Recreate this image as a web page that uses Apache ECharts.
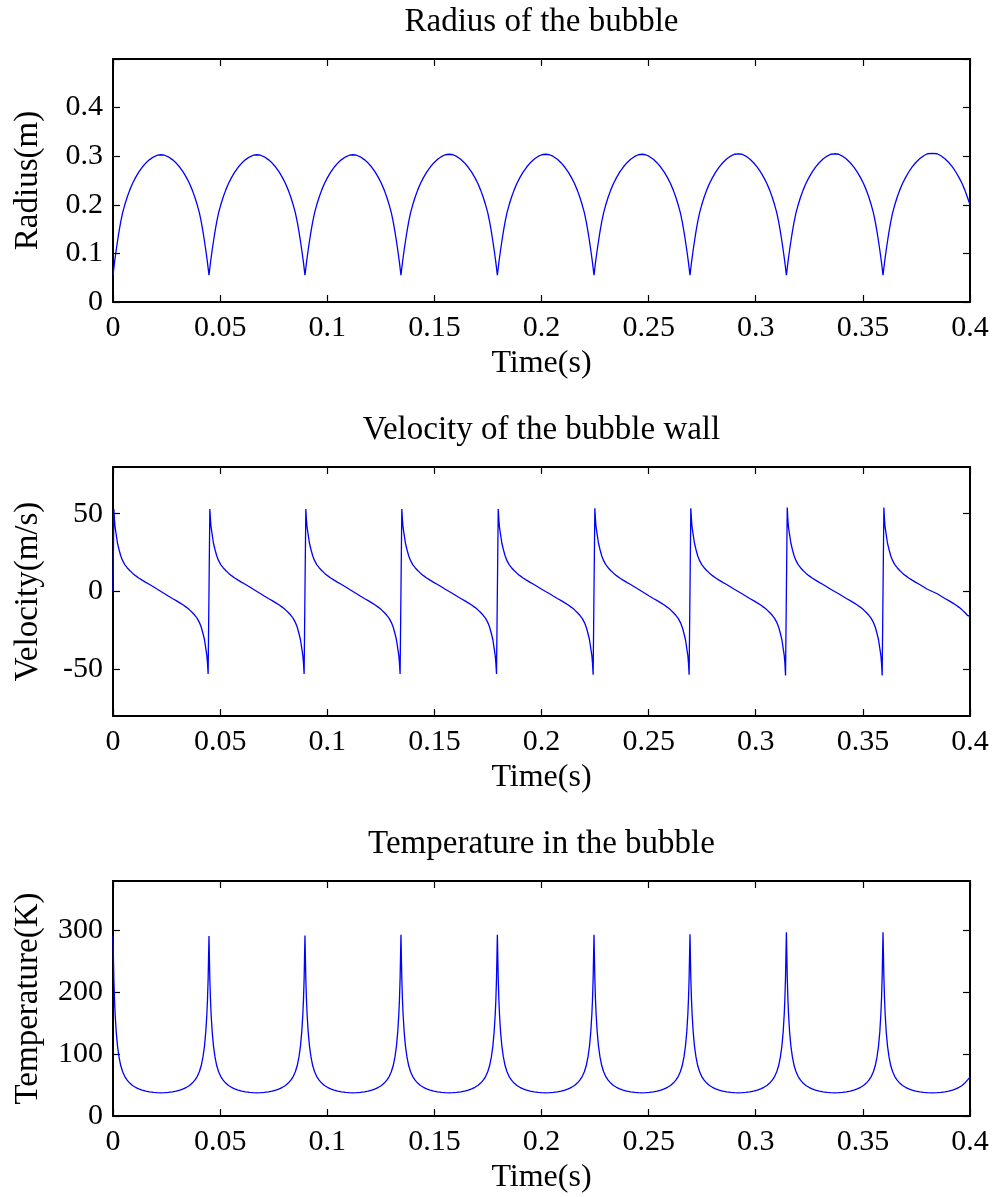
<!DOCTYPE html>
<html>
<head>
<meta charset="utf-8">
<script src="https://cdn.jsdelivr.net/npm/echarts@6/dist/echarts.min.js"></script>
<style>
html,body{margin:0;padding:0;background:#fff;}
#chart{width:995px;height:1197px;}
</style>
</head>
<body>
<div id="chart"></div>
<script>
// ---- data (one line per half oscillation cycle) ----
const time = [
  0, 0.0004, 0.0007, 0.001, 0.0015, 0.0021, 0.0028, 0.0036, 0.0045, 0.0055, 0.0066, 0.0078, 0.0091, 0.0105, 0.012, 0.0136, 0.0153, 0.0171, 0.019, 0.0207,
  0.0224, 0.0241, 0.0258, 0.0277, 0.0295, 0.0312, 0.0328, 0.0343, 0.0357, 0.037, 0.0382, 0.0393, 0.0403, 0.0412, 0.042, 0.0427, 0.0433, 0.0438, 0.0441, 0.0444,
  0.0448, 0.0452, 0.0455, 0.0458, 0.0463, 0.0469, 0.0476, 0.0484, 0.0493, 0.0503, 0.0514, 0.0526, 0.0539, 0.0553, 0.0568, 0.0584, 0.0601, 0.0619, 0.0638, 0.0655,
  0.0672, 0.0689, 0.0706, 0.0725, 0.0743, 0.076, 0.0776, 0.0791, 0.0805, 0.0818, 0.083, 0.0841, 0.0851, 0.086, 0.0868, 0.0875, 0.0881, 0.0886, 0.0889, 0.0892,
  0.0896, 0.09, 0.0903, 0.0906, 0.0911, 0.0917, 0.0924, 0.0932, 0.0941, 0.0951, 0.0962, 0.0974, 0.0987, 0.1001, 0.1016, 0.1032, 0.1049, 0.1067, 0.1086, 0.1103,
  0.112, 0.1137, 0.1154, 0.1173, 0.1191, 0.1208, 0.1224, 0.1239, 0.1253, 0.1266, 0.1278, 0.1289, 0.1299, 0.1308, 0.1316, 0.1323, 0.1329, 0.1334, 0.1337, 0.134,
  0.1344, 0.1348, 0.1351, 0.1354, 0.1359, 0.1365, 0.1372, 0.138, 0.1389, 0.1399, 0.141, 0.1422, 0.1435, 0.1449, 0.1464, 0.148, 0.1497, 0.1515, 0.1534, 0.1551,
  0.1569, 0.1587, 0.1604, 0.1623, 0.1641, 0.1658, 0.1674, 0.1689, 0.1703, 0.1716, 0.1728, 0.1739, 0.1749, 0.1758, 0.1766, 0.1773, 0.1779, 0.1784, 0.1787, 0.179,
  0.1794, 0.1798, 0.1801, 0.1804, 0.1809, 0.1815, 0.1822, 0.183, 0.1839, 0.1849, 0.186, 0.1872, 0.1885, 0.1899, 0.1914, 0.193, 0.1947, 0.1965, 0.1984, 0.2001,
  0.2019, 0.2038, 0.2055, 0.2074, 0.2092, 0.2109, 0.2125, 0.214, 0.2154, 0.2167, 0.2179, 0.219, 0.22, 0.2209, 0.2217, 0.2224, 0.223, 0.2235, 0.2238, 0.2241,
  0.2245, 0.2249, 0.2252, 0.2255, 0.226, 0.2266, 0.2273, 0.2281, 0.229, 0.23, 0.2311, 0.2323, 0.2336, 0.235, 0.2365, 0.2381, 0.2398, 0.2416, 0.2435, 0.2452,
  0.2469, 0.2486, 0.2503, 0.2522, 0.254, 0.2557, 0.2573, 0.2588, 0.2602, 0.2615, 0.2627, 0.2638, 0.2648, 0.2657, 0.2665, 0.2672, 0.2678, 0.2683, 0.2686, 0.2689,
  0.2693, 0.2697, 0.27, 0.2703, 0.2708, 0.2714, 0.2721, 0.2729, 0.2738, 0.2748, 0.2759, 0.2771, 0.2784, 0.2798, 0.2813, 0.2829, 0.2846, 0.2864, 0.2883, 0.29,
  0.2918, 0.2936, 0.2953, 0.2972, 0.299, 0.3007, 0.3023, 0.3038, 0.3052, 0.3065, 0.3077, 0.3088, 0.3098, 0.3107, 0.3115, 0.3122, 0.3128, 0.3133, 0.3136, 0.3139,
  0.3143, 0.3147, 0.315, 0.3153, 0.3158, 0.3164, 0.3171, 0.3179, 0.3188, 0.3198, 0.3209, 0.3221, 0.3234, 0.3248, 0.3263, 0.3279, 0.3296, 0.3314, 0.3333, 0.335,
  0.3368, 0.3387, 0.3404, 0.3423, 0.3441, 0.3458, 0.3474, 0.3489, 0.3503, 0.3516, 0.3528, 0.3539, 0.3549, 0.3558, 0.3566, 0.3573, 0.3579, 0.3584, 0.3587, 0.359,
  0.3594, 0.3598, 0.3601, 0.3604, 0.3609, 0.3615, 0.3622, 0.363, 0.3639, 0.3649, 0.366, 0.3672, 0.3685, 0.3699, 0.3714, 0.373, 0.3747, 0.3765, 0.3784, 0.3801,
  0.3824, 0.3847, 0.3864, 0.3883, 0.3901, 0.3918, 0.3934, 0.3949, 0.3963, 0.3976, 0.3988, 0.4
];
const radius = [
  0.055, 0.07, 0.081, 0.091, 0.107, 0.125, 0.145, 0.165, 0.184, 0.2, 0.2155, 0.2302, 0.2437, 0.256, 0.2672, 0.2772, 0.2858, 0.293, 0.2987, 0.302,
  0.303, 0.302, 0.2987, 0.293, 0.2858, 0.2772, 0.2672, 0.256, 0.2437, 0.2302, 0.2155, 0.2, 0.184, 0.165, 0.145, 0.125, 0.107, 0.091, 0.081, 0.07,
  0.055, 0.07, 0.081, 0.091, 0.107, 0.125, 0.145, 0.165, 0.184, 0.2, 0.2155, 0.2302, 0.2437, 0.256, 0.2672, 0.2772, 0.2858, 0.293, 0.2987, 0.302,
  0.303, 0.302, 0.2987, 0.293, 0.2858, 0.2772, 0.2672, 0.256, 0.2437, 0.2302, 0.2155, 0.2, 0.184, 0.165, 0.145, 0.125, 0.107, 0.091, 0.081, 0.07,
  0.055, 0.07, 0.081, 0.091, 0.107, 0.125, 0.145, 0.165, 0.184, 0.2, 0.2155, 0.2302, 0.2437, 0.256, 0.2672, 0.2772, 0.2858, 0.293, 0.2987, 0.302,
  0.303, 0.302, 0.2987, 0.293, 0.2858, 0.2772, 0.2672, 0.256, 0.2437, 0.2302, 0.2155, 0.2, 0.184, 0.165, 0.145, 0.125, 0.107, 0.091, 0.081, 0.07,
  0.055, 0.07, 0.081, 0.091, 0.107, 0.125, 0.145, 0.165, 0.184, 0.2, 0.2155, 0.2302, 0.2437, 0.256, 0.2672, 0.2772, 0.2862, 0.2936, 0.2995, 0.303,
  0.304, 0.303, 0.2995, 0.2936, 0.2862, 0.2772, 0.2672, 0.256, 0.2437, 0.2302, 0.2155, 0.2, 0.184, 0.165, 0.145, 0.125, 0.107, 0.091, 0.081, 0.07,
  0.055, 0.07, 0.081, 0.091, 0.107, 0.125, 0.145, 0.165, 0.184, 0.2, 0.2155, 0.2302, 0.2437, 0.256, 0.2672, 0.2772, 0.2862, 0.2936, 0.2995, 0.303,
  0.304, 0.303, 0.2995, 0.2936, 0.2862, 0.2772, 0.2672, 0.256, 0.2437, 0.2302, 0.2155, 0.2, 0.184, 0.165, 0.145, 0.125, 0.107, 0.091, 0.081, 0.07,
  0.055, 0.07, 0.081, 0.091, 0.107, 0.125, 0.145, 0.165, 0.184, 0.2, 0.2155, 0.2302, 0.2437, 0.256, 0.2672, 0.2772, 0.2862, 0.2936, 0.2995, 0.303,
  0.304, 0.303, 0.2995, 0.2936, 0.2862, 0.2772, 0.2672, 0.256, 0.2437, 0.2302, 0.2155, 0.2, 0.184, 0.165, 0.145, 0.125, 0.107, 0.091, 0.081, 0.07,
  0.055, 0.07, 0.081, 0.091, 0.107, 0.125, 0.145, 0.165, 0.184, 0.2, 0.2155, 0.2302, 0.2437, 0.256, 0.2672, 0.2776, 0.2866, 0.2942, 0.3003, 0.304,
  0.305, 0.304, 0.3003, 0.2942, 0.2866, 0.2776, 0.2672, 0.256, 0.2437, 0.2302, 0.2155, 0.2, 0.184, 0.165, 0.145, 0.125, 0.107, 0.091, 0.081, 0.07,
  0.055, 0.07, 0.081, 0.091, 0.107, 0.125, 0.145, 0.165, 0.184, 0.2, 0.2155, 0.2302, 0.2437, 0.256, 0.2672, 0.2776, 0.2866, 0.2942, 0.3003, 0.304,
  0.305, 0.304, 0.3003, 0.2942, 0.2866, 0.2776, 0.2672, 0.256, 0.2437, 0.2302, 0.2155, 0.2, 0.184, 0.165, 0.145, 0.125, 0.107, 0.091, 0.081, 0.07,
  0.055, 0.07, 0.081, 0.091, 0.107, 0.125, 0.145, 0.165, 0.184, 0.2, 0.2155, 0.2302, 0.2437, 0.256, 0.2675, 0.278, 0.287, 0.2947, 0.301, 0.305,
  0.306, 0.305, 0.301, 0.2947, 0.287, 0.278, 0.2675, 0.256, 0.2437, 0.2302, 0.2155, 0.2
];
const velocity = [
  0, 53, 46, 41, 36.5, 31, 27, 23, 19.8, 17.3, 15.3, 13.5, 11.8, 10.2, 8.7, 7.3, 5.9, 4.5, 2.9, 1.45,
  0, -1.45, -2.9, -4.5, -5.9, -7.3, -8.7, -10.2, -11.8, -13.5, -15.3, -17.3, -19.8, -23, -27, -31, -36.5, -41, -46, -53,
  0, 53, 46, 41, 36.5, 31, 27, 23, 19.8, 17.3, 15.3, 13.5, 11.8, 10.2, 8.7, 7.3, 5.9, 4.5, 2.9, 1.45,
  0, -1.45, -2.9, -4.5, -5.9, -7.3, -8.7, -10.2, -11.8, -13.5, -15.3, -17.3, -19.8, -23, -27, -31, -36.5, -41, -46, -53,
  0, 53, 46, 41, 36.5, 31, 27, 23, 19.8, 17.3, 15.3, 13.5, 11.8, 10.2, 8.7, 7.3, 5.9, 4.5, 2.9, 1.45,
  0, -1.45, -2.9, -4.5, -5.9, -7.3, -8.7, -10.2, -11.8, -13.5, -15.3, -17.3, -19.8, -23, -27, -31, -36.5, -41, -46, -53,
  0, 53, 46, 41, 36.5, 31, 27, 23, 19.8, 17.3, 15.3, 13.5, 11.8, 10.2, 8.7, 7.3, 5.9, 4.5, 2.9, 1.45,
  0, -1.45, -2.9, -4.5, -5.9, -7.3, -8.7, -10.2, -11.8, -13.5, -15.3, -17.3, -19.8, -23, -27, -31, -36.5, -41, -46, -53,
  0, 53, 46, 41, 36.5, 31, 27, 23, 19.8, 17.3, 15.3, 13.5, 11.8, 10.2, 8.7, 7.3, 5.9, 4.5, 2.9, 1.45,
  0, -1.45, -2.9, -4.5, -5.9, -7.3, -8.7, -10.2, -11.8, -13.5, -15.3, -17.3, -19.8, -23, -27, -31, -36.5, -41, -46, -53.5,
  0, 53.5, 46, 41, 36.5, 31, 27, 23, 19.8, 17.3, 15.3, 13.5, 11.8, 10.2, 8.7, 7.3, 5.9, 4.5, 2.9, 1.45,
  0, -1.45, -2.9, -4.5, -5.9, -7.3, -8.7, -10.2, -11.8, -13.5, -15.3, -17.3, -19.8, -23, -27, -31, -36.5, -41, -46, -53.5,
  0, 53.5, 46, 41, 36.5, 31, 27, 23, 19.8, 17.3, 15.3, 13.5, 11.8, 10.2, 8.7, 7.3, 5.9, 4.5, 2.9, 1.45,
  0, -1.45, -2.9, -4.5, -5.9, -7.3, -8.7, -10.2, -11.8, -13.5, -15.3, -17.3, -19.8, -23, -27, -31, -36.5, -41, -46, -54,
  0, 54, 46, 41, 36.5, 31, 27, 23, 19.8, 17.3, 15.3, 13.5, 11.8, 10.2, 8.7, 7.3, 5.9, 4.5, 2.9, 1.45,
  0, -1.45, -2.9, -4.5, -5.9, -7.3, -8.7, -10.2, -11.8, -13.5, -15.3, -17.3, -19.8, -23, -27, -31, -36.5, -41, -46, -54,
  0, 54, 46, 41, 36.5, 31, 27, 23, 19.8, 17.3, 15.3, 13.5, 11.8, 10.2, 8.7, 7.3, 5.9, 4.5, 2.9, 1.45,
  0, -1.45, -2.9, -4.5, -5.9, -7.3, -8.7, -10.2, -11.8, -13.5, -15.3, -16
];
const temperature = [
  292, 221, 188, 164, 136, 113, 95.5, 81.6, 71.5, 63.8, 57.9, 53.2, 49.4, 46.4, 43.9, 41.9, 40.4, 39.1, 38.2, 37.7,
  37.5, 37.7, 38.2, 39.1, 40.4, 41.9, 43.9, 46.4, 49.4, 53.2, 57.9, 63.8, 71.5, 81.6, 95.5, 113, 136, 164, 188, 221,
  291, 221, 188, 164, 136, 113, 95.5, 81.6, 71.5, 63.8, 57.9, 53.2, 49.4, 46.4, 43.9, 41.9, 40.4, 39.1, 38.2, 37.7,
  37.5, 37.7, 38.2, 39.1, 40.4, 41.9, 43.9, 46.4, 49.4, 53.2, 57.9, 63.8, 71.5, 81.6, 95.5, 113, 136, 164, 188, 221,
  292, 221, 188, 164, 136, 113, 95.5, 81.6, 71.5, 63.8, 57.9, 53.2, 49.4, 46.4, 43.9, 41.9, 40.4, 39.1, 38.2, 37.7,
  37.5, 37.7, 38.2, 39.1, 40.4, 41.9, 43.9, 46.4, 49.4, 53.2, 57.9, 63.8, 71.5, 81.6, 95.5, 113, 136, 164, 188, 222,
  293, 222, 188, 164, 136, 113, 95.5, 81.6, 71.5, 63.8, 57.9, 53.2, 49.4, 46.4, 43.9, 41.9, 40.4, 39.1, 38.2, 37.7,
  37.5, 37.7, 38.2, 39.1, 40.4, 41.9, 43.9, 46.4, 49.4, 53.2, 57.9, 63.8, 71.5, 81.6, 95.5, 113, 136, 164, 188, 222,
  293, 222, 188, 164, 136, 113, 95.5, 81.6, 71.5, 63.8, 57.9, 53.2, 49.4, 46.4, 43.9, 41.9, 40.4, 39.1, 38.2, 37.7,
  37.5, 37.7, 38.2, 39.1, 40.4, 41.9, 43.9, 46.4, 49.4, 53.2, 57.9, 63.8, 71.5, 81.6, 95.5, 113, 136, 164, 188, 222,
  293, 222, 188, 164, 136, 113, 95.5, 81.6, 71.5, 63.8, 57.9, 53.2, 49.4, 46.4, 43.9, 41.9, 40.4, 39.1, 38.2, 37.7,
  37.5, 37.7, 38.2, 39.1, 40.4, 41.9, 43.9, 46.4, 49.4, 53.2, 57.9, 63.8, 71.5, 81.6, 95.5, 113, 136, 164, 189, 223,
  294, 223, 189, 164, 136, 113, 95.5, 81.6, 71.5, 63.8, 57.9, 53.2, 49.4, 46.4, 43.9, 41.9, 40.4, 39.1, 38.2, 37.7,
  37.5, 37.7, 38.2, 39.1, 40.4, 41.9, 43.9, 46.4, 49.4, 53.2, 57.9, 63.8, 71.5, 81.6, 95.5, 113, 136, 165, 190, 225,
  297, 225, 190, 165, 136, 113, 95.5, 81.6, 71.5, 63.8, 57.9, 53.2, 49.4, 46.4, 43.9, 41.9, 40.4, 39.1, 38.2, 37.7,
  37.5, 37.7, 38.2, 39.1, 40.4, 41.9, 43.9, 46.4, 49.4, 53.2, 57.9, 63.8, 71.5, 81.6, 95.5, 113, 136, 165, 190, 225,
  297, 225, 190, 165, 136, 113, 95.5, 81.6, 71.5, 63.8, 57.9, 53.2, 49.4, 46.4, 43.9, 41.9, 40.4, 39.1, 38.2, 37.7,
  37.5, 37.7, 38.2, 39.1, 40.4, 41.9, 43.9, 46.4, 49.4, 53.2, 57.9, 63
];
const titles = ['Radius of the bubble', 'Velocity of the bubble wall', 'Temperature in the bubble'];
const yNames = ['Radius(m)', 'Velocity(m/s)', 'Temperature(K)'];
const xName = 'Time(s)';
const xRange = [0, 0.4];
const xTickStep = 0.05;
const yRanges = [[0, 0.5], [-80, 80], [0, 380]];
const yTickValues = [[0, 0.1, 0.2, 0.3, 0.4, 0.5], [-50, 0, 50], [0, 100, 200, 300]];
const yLabelValues = [[0, 0.1, 0.2, 0.3, 0.4], [-50, 0, 50], [0, 100, 200, 300]];
const seriesValues = [radius, velocity, temperature];

// ---- layout ----
const FONT = 'Liberation Serif';
const gridBoxes = [
  {left: 113, top: 59, width: 857, height: 243},
  {left: 113, top: 467, width: 857, height: 249},
  {left: 113, top: 881, width: 857, height: 235}
];
const lineCol = '#000';
const grids = [], xAxes = [], yAxes = [], series = [], titleOpts = [];
gridBoxes.forEach((g, i) => {
  grids.push(Object.assign({outerBoundsMode: 'none', containLabel: false}, g));
  titleOpts.push({
    text: titles[i], left: g.left + g.width / 2, top: g.top - 53, textAlign: 'center', padding: 0,
    textStyle: {fontFamily: FONT, fontSize: 33, fontWeight: 'normal', color: '#000'}
  });
  const axLine = {show: true, onZero: false, lineStyle: {color: lineCol, width: 2}};
  const tick = {show: true, inside: true, length: 7, lineStyle: {color: lineCol, width: 1.2}};
  xAxes.push({
    type: 'value', gridIndex: i, position: 'bottom', min: xRange[0], max: xRange[1], interval: xTickStep,
    axisLine: axLine, axisTick: tick, splitLine: {show: false},
    axisLabel: {fontFamily: FONT, fontSize: 30, color: '#000', margin: 11},
    name: xName, nameLocation: 'middle', nameGap: 46,
    nameTextStyle: {fontFamily: FONT, fontSize: 32, color: '#000'}
  });
  xAxes.push({
    type: 'value', gridIndex: i, position: 'top', min: xRange[0], max: xRange[1], interval: xTickStep,
    axisLine: axLine, axisTick: tick, splitLine: {show: false}, axisLabel: {show: false}
  });
  yAxes.push({
    type: 'value', gridIndex: i, position: 'left', min: yRanges[i][0], max: yRanges[i][1],
    axisLine: axLine, splitLine: {show: false},
    axisTick: Object.assign({customValues: yTickValues[i]}, tick),
    axisLabel: {customValues: yLabelValues[i], fontFamily: FONT, fontSize: 30, color: '#000', margin: 10},
    name: yNames[i], nameLocation: 'middle', nameGap: 68, nameRotate: 90,
    nameTextStyle: {fontFamily: FONT, fontSize: 33, color: '#000'}
  });
  yAxes.push({
    type: 'value', gridIndex: i, position: 'right', min: yRanges[i][0], max: yRanges[i][1],
    axisLine: axLine, splitLine: {show: false},
    axisTick: Object.assign({customValues: yTickValues[i]}, tick),
    axisLabel: {show: false}
  });
  series.push({
    type: 'line', xAxisIndex: 2 * i, yAxisIndex: 2 * i, showSymbol: false, symbol: 'none',
    lineStyle: {color: '#0000ff', width: 1.3}, clip: true, silent: true,
    data: time.map((t, k) => [t, seriesValues[i][k]])
  });
});

const chart = echarts.init(document.getElementById('chart'), null, {renderer: 'canvas'});
chart.setOption({
  backgroundColor: '#fff',
  animation: false,
  title: titleOpts,
  grid: grids,
  xAxis: xAxes,
  yAxis: yAxes,
  series: series
});
</script>
</body>
</html>
